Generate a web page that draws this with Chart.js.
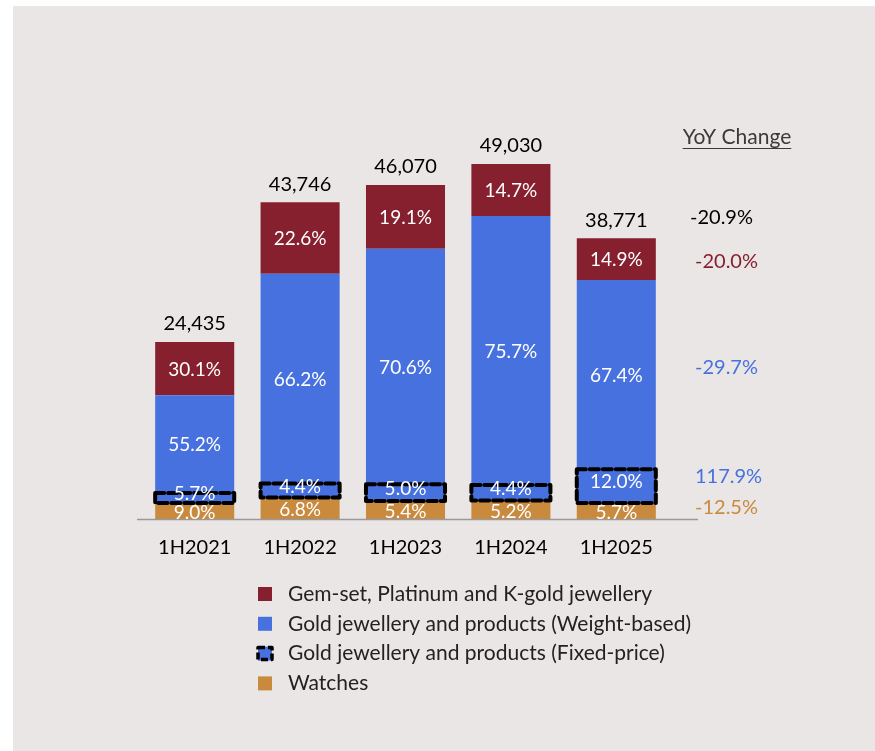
<!DOCTYPE html>
<html>
<head>
<meta charset="utf-8">
<script src="https://cdn.jsdelivr.net/npm/chart.js@4.4.1/dist/chart.umd.min.js"></script>
<style>
  html, body { margin: 0; padding: 0; background: #fff; }
  #wrap { position: relative; width: 875px; height: 751px; overflow: hidden; }
  #panel { position: absolute; left: 13px; top: 6px; width: 862px; height: 745px; background: #eae6e5; }
  canvas { position: absolute; left: 0; top: 0; }
</style>
</head>
<body>
<div id="wrap">
  <div id="panel"></div>
  <canvas id="myChart" width="875" height="751"></canvas>
</div>
<script>
// data
const periods = ["1H2021", "1H2022", "1H2023", "1H2024", "1H2025"];
const totals = [24435, 43746, 46070, 49030, 38771];

// share of total, %
const watchesPct = [9.0, 6.8, 5.4, 5.2, 5.7];
const fixedPct = [5.7, 4.4, 5.0, 4.4, 12.0];
const weightPct = [55.2, 66.2, 70.6, 75.7, 67.4];
const gemPct = [30.1, 22.6, 19.1, 14.7, 14.9];

// YoY change column (1H2025 vs 1H2024)
const yoyTitle = "YoY Change";
const yoyTotal = "-20.9%";
const yoyWatches = "-12.5%";
const yoyFixed = "117.9%";
const yoyWeight = "-29.7%";
const yoyGem = "-20.0%";

const seriesNames = [
  "Watches",
  "Gold jewellery and products (Fixed-price)",
  "Gold jewellery and products (Weight-based)",
  "Gem-set, Platinum and K-gold jewellery"
];

const RED = "#86202e";
const BLUE = "#4771df";
const ORANGE = "#c98a3e";
const FONT = "Lato";

function toValues(pct) {
  return pct.map((p, i) => totals[i] * p / 100);
}

function makeSet(label, pct, color, yoy, yoyColor) {
  return {
    label: label,
    data: toValues(pct),
    pcts: pct,
    yoy: yoy,
    yoyColor: yoyColor,
    backgroundColor: color,
    borderWidth: 0,
    barPercentage: 0.75,
    categoryPercentage: 1.0
  };
}

const data = {
  labels: periods,
  datasets: [
    makeSet(seriesNames[0], watchesPct, ORANGE, yoyWatches, ORANGE),
    makeSet(seriesNames[1], fixedPct, BLUE, yoyFixed, BLUE),
    makeSet(seriesNames[2], weightPct, BLUE, yoyWeight, BLUE),
    makeSet(seriesNames[3], gemPct, RED, yoyGem, RED)
  ]
};
data.datasets[1].dashed = true;

// small nudges of labels, px (matches the picture)
const labelNudge = [2, -4, 1, 1];
const yoyNudge = [-3, -10, -7, 2];

function fmt(n) {
  return n.toLocaleString("en-US");
}

const decor = {
  id: "decor",
  afterDatasetsDraw(chart) {
    const ctx = chart.ctx;
    const area = chart.chartArea;
    const n = chart.data.datasets.length;

    // dashed outline round fixed-price segments
    chart.data.datasets.forEach((ds, di) => {
      if (!ds.dashed) return;
      chart.getDatasetMeta(di).data.forEach(bar => {
        const p = bar.getProps(["x", "y", "base", "width"], true);
        ctx.save();
        ctx.strokeStyle = "#000";
        ctx.lineWidth = 4;
        ctx.setLineDash([9, 4]);
        ctx.lineJoin = "round";
        ctx.lineCap = "round";
        ctx.strokeRect(p.x - p.width / 2, p.y, p.width, p.base - p.y);
        ctx.restore();
      });
    });

    // base line
    ctx.save();
    ctx.strokeStyle = "#9a9898";
    ctx.lineWidth = 1.5;
    ctx.beginPath();
    ctx.moveTo(area.left - 5, area.bottom + 0.5);
    ctx.lineTo(area.right + 29, area.bottom + 0.5);
    ctx.stroke();
    ctx.restore();

    // percentages inside the segments
    ctx.save();
    ctx.beginPath();
    ctx.rect(area.left, area.top, area.right - area.left, area.bottom - area.top);
    ctx.clip();
    ctx.fillStyle = "#fff";
    ctx.font = "19px " + FONT;
    ctx.textAlign = "center";
    ctx.textBaseline = "middle";
    chart.data.datasets.forEach((ds, di) => {
      chart.getDatasetMeta(di).data.forEach((bar, i) => {
        const p = bar.getProps(["x", "y", "base"], true);
        const cy = (p.y + p.base) / 2 + labelNudge[di];
        ctx.fillText(ds.pcts[i].toFixed(1) + "%", p.x, cy);
      });
    });
    ctx.restore();

    // totals on top
    const topMeta = chart.getDatasetMeta(n - 1);
    ctx.save();
    ctx.fillStyle = "#000";
    ctx.font = "20px " + FONT;
    ctx.textAlign = "center";
    ctx.textBaseline = "middle";
    topMeta.data.forEach((bar, i) => {
      ctx.fillText(fmt(totals[i]), bar.x, bar.y - 18);
    });
    ctx.restore();

    // YoY column next to the last bar
    const last = periods.length - 1;
    const colX = area.right + 24;
    ctx.save();
    ctx.font = "20px " + FONT;
    ctx.textAlign = "left";
    ctx.textBaseline = "middle";
    ctx.fillStyle = "#000";
    ctx.fillText(yoyTotal, colX - 3, topMeta.data[last].y - 21);
    chart.data.datasets.forEach((ds, di) => {
      const bar = chart.getDatasetMeta(di).data[last];
      const p = bar.getProps(["y", "base"], true);
      ctx.fillStyle = ds.yoyColor;
      ctx.fillText(ds.yoy, colX + 2, (p.y + p.base) / 2 + yoyNudge[di]);
    });

    // header, underlined
    ctx.font = "21px " + FONT;
    ctx.fillStyle = "#3a3a3a";
    ctx.textAlign = "center";
    const hx = area.right + 68;
    const hy = 137;
    ctx.fillText(yoyTitle, hx, hy);
    const w = ctx.measureText(yoyTitle).width;
    ctx.strokeStyle = "#3a3a3a";
    ctx.lineWidth = 1.2;
    ctx.beginPath();
    ctx.moveTo(hx - w / 2, hy + 11.5);
    ctx.lineTo(hx + w / 2, hy + 11.5);
    ctx.stroke();
    ctx.restore();
  },

  afterDraw(chart) {
    // legend in one column, top series first
    const ctx = chart.ctx;
    const sets = chart.data.datasets.slice().reverse();
    const boxX = 258;
    const textX = 288;
    const y0 = 594;
    const step = 29.8;
    const size = 14;
    ctx.save();
    ctx.font = "21px " + FONT;
    ctx.textAlign = "left";
    ctx.textBaseline = "middle";
    sets.forEach((ds, k) => {
      const y = y0 + k * step;
      ctx.fillStyle = ds.backgroundColor;
      ctx.fillRect(boxX, y - size / 2, size, size);
      if (ds.dashed) {
        ctx.strokeStyle = "#000";
        ctx.lineWidth = 3.5;
        ctx.setLineDash([7, 3]);
        ctx.lineJoin = "round";
        ctx.strokeRect(boxX, y - size / 2 + 1, size, size - 2);
        ctx.setLineDash([]);
      }
      ctx.fillStyle = "#222";
      ctx.fillText(ds.label, textX, y);
    });
    ctx.restore();
  }
};

const config = {
  type: "bar",
  data: data,
  options: {
    responsive: false,
    animation: false,
    layout: { padding: { left: 142, right: 206, top: 41, bottom: 174 } },
    plugins: {
      legend: { display: false },
      tooltip: { enabled: false }
    },
    scales: {
      x: {
        stacked: true,
        grid: { display: false, drawTicks: false },
        border: { display: false },
        ticks: { color: "#000", font: { family: FONT, size: 20 }, padding: 17 }
      },
      y: {
        stacked: true,
        display: false,
        min: 0,
        max: 66000
      }
    }
  },
  plugins: [decor]
};

const myChart = new Chart(document.getElementById("myChart"), config);
</script>
</body>
</html>
